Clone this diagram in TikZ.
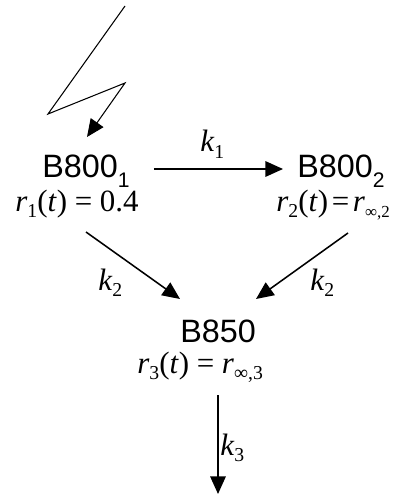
\documentclass[tikz,border=0pt]{standalone}
\usepackage{fontspec}
\setmainfont{Liberation Serif}
\setsansfont{Liberation Sans}
\usetikzlibrary{arrows.meta, positioning, calc}

% lowered subscripts for the labels
\newcommand{\bsub}[1]{\raisebox{-6.5pt}{\fontsize{15}{15}\selectfont #1}}
\newcommand{\msub}[1]{\raisebox{-4.5pt}{\fontsize{14}{14}\selectfont #1}}
\newcommand{\rate}[1]{\textit{k}\msub{#1}}

\tikzset{
  species/.style={inner sep=0pt, anchor=base west, font=\sffamily\fontsize{23}{26}\selectfont},
  popul/.style={inner sep=0pt, anchor=base west, font=\fontsize{22}{26}\selectfont},
  ratelab/.style={inner sep=0pt, anchor=base west, font=\fontsize{22}{26}\selectfont},
  transfer/.style={line width=1.1pt, -{Triangle[length=12.5pt, width=11pt]}},
  bolt/.style={line width=0.75pt, -{Triangle[length=12.5pt, width=11pt]}}
}

\begin{document}
\begin{tikzpicture}[x=0.025cm, y=-0.025cm]
\useasboundingbox (0,0) rectangle (398,498);

% Species and their populations
\node[species] (b1) at (42,178) {B800\bsub{1}};
\node[popul] (r1) at (15,211) {\textit{r}\msub{1}(\textit{t}) = 0.4};
\node[species] (b2) at (297,178) {B800\bsub{2}};
\node[popul] (r2) at (276,211) {\textit{r}\msub{2}(\textit{t})\hspace{0.12em}=\hspace{0.12em}\textit{r}\msub{\fontsize{12}{12}\selectfont∞,2}};
\node[species] (b3) at (180,342) {B850};
\node[popul] (r3) at (137,373) {\textit{r}\msub{3}(\textit{t}) = \textit{r}\msub{∞,3}};

% Excitation
\draw[bolt] (125,6) -- (48,114) -- (125,83) -- ([shift={(45,-41)}]b1.base west);

% Energy transfer
\draw[transfer] ([shift={(24,-9)}]b1.base east) -- ([shift={(-14,-9)}]b2.base west);
\node[ratelab] (k1) at (200,152) {\rate{1}};

\draw[transfer] ([shift={(71,21)}]r1.base west) -- ([shift={(0,-43)}]b3.base west);
\node[ratelab] (k2a) at (98,290) {\rate{2}};

\draw[transfer] ([shift={(72,22)}]r2.base west) -- ([shift={(76,-43)}]b3.base west);
\node[ratelab] (k2b) at (310,290) {\rate{2}};

% Decay
\coordinate (sink) at (218,494);
\draw[transfer] ([shift={(38,53)}]b3.base west) -- (sink);
\node[ratelab] (k3) at (220,455) {\rate{3}};

\end{tikzpicture}
\end{document}
